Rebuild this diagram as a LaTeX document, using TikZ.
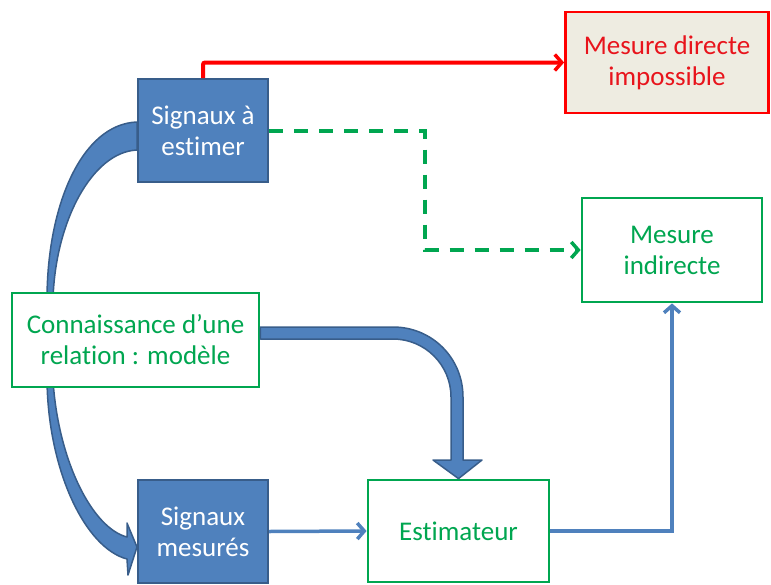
\documentclass[tikz,border=0pt]{standalone}
\usepackage{fontspec}
\setmainfont[RawFeature=-liga]{Carlito}
\usetikzlibrary{arrows.meta,backgrounds}
\definecolor{bfill}{HTML}{4F81BD}
\definecolor{bdraw}{HTML}{385D8A}
\definecolor{gr}{HTML}{00A650}
\definecolor{rd}{HTML}{FF0000}
\definecolor{rdtext}{HTML}{E8141C}
\definecolor{beige}{HTML}{EEECE1}
\tikzset{
  bluebox/.style={draw=bdraw,fill=bfill,line width=2pt,text=white,align=center,
    minimum width=130pt,minimum height=103pt,inner sep=0pt,font=\fontsize{27}{31}\selectfont},
  greenbox/.style={draw=gr,fill=white,line width=2.8pt,text=gr,align=center,inner sep=0pt,
    font=\fontsize{27}{31}\selectfont},
  redbox/.style={draw=rd,fill=beige,line width=2.8pt,text=rdtext,align=center,inner sep=0pt,
    font=\fontsize{27}{31}\selectfont},
  barb/.style={-{Straight Barb[length=7pt,width=16pt,line width=3.5pt]}},
  blockarrow/.style={draw=bdraw,fill=bfill,line width=1.5pt,line join=round}
}
\begin{document}
\begin{tikzpicture}[x=1pt,y=-1pt]
\useasboundingbox (0,0) rectangle (771,584);
\node[bluebox] (sae) at (203,130.5) {Signaux à\\estimer};
\node[redbox,minimum width=203pt,minimum height=101pt] (mdi) at (667,62.5) {Mesure directe\\impossible};
\node[greenbox,minimum width=180pt,minimum height=104pt] (mi) at (672,250) {Mesure\\indirecte};
\node[greenbox,minimum width=247pt,minimum height=94pt] (conn) at (135.5,340) {Connaissance d’une\\relation : modèle};
\node[bluebox] (sm) at (203,531.5) {Signaux\\mesurés};
\node[greenbox,minimum width=181pt,minimum height=102pt] (est) at (458.5,531) {Estimateur};
% connectors
\draw[rd,line width=4pt,barb,rounded corners=2pt] (sae.north) |- (mdi.west);
\draw[gr,line width=4pt,dash pattern=on 14pt off 11pt,barb] (sae.east) -- (425,130.5) |- (mi.west);
\draw[bfill,line width=3.5pt,barb] (sm.east) -- (est.west);
\draw[bfill,line width=3.5pt,barb] (est.east) -| (mi.south);
% thick block arrow from model to estimator
\draw[blockarrow] (conn.east |- 0,327) -- (393,327) .. controls (432,327) and (463,358) .. (463,397)
  -- (463,460) -- (482,460) -- (est.north) -- (433,460) -- (451,460) -- (451,397)
  .. controls (451,365) and (425,339) .. (393,339) -- (conn.east |- 0,339) -- cycle;
% curved block arrow behind the model box
\begin{pgfonlayer}{background}
\draw[blockarrow] (sae.west |- 0,122) .. controls (82,124) and (47,205) .. (47,300) -- (47,380)
  .. controls (48,470) and (85,548) .. (127,559) -- (128,575) -- (sm.west |- 0,547) -- (127,523)
  -- (127,537) .. controls (92,528) and (58,460) .. (53,380) -- (53,300)
  .. controls (55,222) and (92,152) .. (sae.west |- 0,150) -- cycle;
\end{pgfonlayer}
\end{tikzpicture}
\end{document}
